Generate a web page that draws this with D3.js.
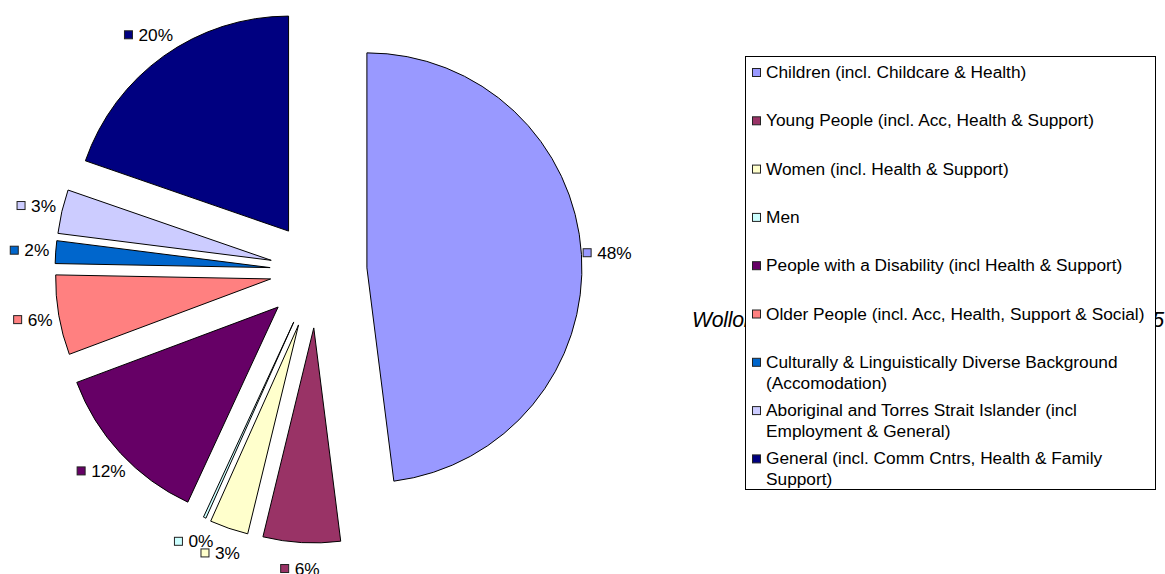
<!DOCTYPE html>
<html>
<head>
    <meta charset="utf-8">
    <title>Funding by target group - exploded pie</title>
    <style>
        body { margin: 0; background: #fff; }
        text { font-family: "Liberation Sans", Arial, sans-serif; fill: #000; }
        .slice { stroke: #000; stroke-width: 1px; }
        .key { stroke: #222; stroke-width: 1px; }
    </style>
    <script src="https://d3js.org/d3.v7.min.js"></script>
</head>
<body>
<script>
  // slice order is clockwise from 12 o'clock
  var categories = [
    "Children (incl. Childcare & Health)",
    "Young People (incl. Acc, Health & Support)",
    "Women (incl. Health & Support)",
    "Men",
    "People with a Disability (incl Health & Support)",
    "Older People (incl. Acc, Health, Support & Social)",
    "Culturally & Linguistically Diverse Background (Accomodation)",
    "Aboriginal and Torres Strait Islander (incl Employment & General)",
    "General (incl. Comm Cntrs, Health & Family Support)"
  ];
  var shares = [48.0, 5.8, 2.9, 0.2, 12.4, 6.0, 1.7, 3.3, 19.7];
  var colours = ["#9999ff", "#993366", "#ffffcc", "#ccffff", "#660066",
                 "#ff8080", "#0066cc", "#ccccff", "#000080"];
  // how far each slice is pulled out from the centre (px)
  var explode = [50, 57, 57, 56, 53, 47, 47, 47, 49];
  var chartTitle = "Wollongong Community Grants Funding 2004/2005";

  var width = 1165, height = 574;
  var cx = 317, cy = 271, radius = 215, labelRadius = 241;

  var svg = d3.select("body").append("svg")
              .attr("width", width)
              .attr("height", height);

  // title sits behind the legend box, as in the original
  svg.append("text")
     .attr("x", 692)
     .attr("y", 327)
     .attr("textLength", 472)
     .attr("lengthAdjust", "spacing")
     .style("font-size", "21.3px")
     .style("font-style", "italic")
     .text(chartTitle);

  var data = categories.map(function (c, i) {
    return {name: c, value: shares[i], colour: colours[i], explode: explode[i]};
  });

  var pie = d3.pie().sort(null).value(function (d) { return d.value; });
  var arc = d3.arc().innerRadius(0).outerRadius(radius);
  var arcs = pie(data);

  function offset(d, r) {
    var mid = (d.startAngle + d.endAngle) / 2;
    return [r * Math.sin(mid), -r * Math.cos(mid)];
  }

  var g = svg.append("g").attr("transform", "translate(" + cx + "," + cy + ")");

  g.selectAll(".slice")
   .data(arcs)
   .enter()
   .append("path")
   .attr("class", "slice")
   .attr("d", arc)
   .attr("fill", function (d) { return d.data.colour; })
   .attr("transform", function (d) {
     var o = offset(d, d.data.explode);
     return "translate(" + o[0] + "," + o[1] + ")";
   });

  // data labels: small colour key + rounded percent
  var fmt = d3.format(".0f");
  var labels = g.selectAll(".lbl")
                .data(arcs)
                .enter()
                .append("g")
                .attr("class", "lbl");

  labels.each(function (d) {
    var sel = d3.select(this);
    var o = offset(d, d.data.explode);
    var p = offset(d, labelRadius);
    var lx = o[0] + p[0], ly = o[1] + p[1];
    var t = sel.append("text")
               .attr("dy", "0.35em")
               .style("font-size", "17.3px")
               .text(fmt(d.data.value) + "%");
    var tw = t.node().getComputedTextLength();
    var w = 8 + 6 + tw;
    var x0 = lx - w / 2;
    sel.insert("rect", "text")
       .attr("class", "key")
       .attr("x", x0)
       .attr("y", ly - 4)
       .attr("width", 8)
       .attr("height", 8)
       .attr("fill", d.data.colour);
    t.attr("x", x0 + 14).attr("y", ly);
  });

  // legend
  var legX = 745, legY = 56, legW = 410, legH = 433;
  var rowStep = 48.3, lineH = 20.8, wrapWidth = 390;

  var legend = svg.append("g");
  legend.append("rect")
        .attr("x", legX + 0.5)
        .attr("y", legY + 0.5)
        .attr("width", legW)
        .attr("height", legH)
        .attr("fill", "#fff")
        .attr("stroke", "#000");

  data.forEach(function (d, i) {
    var y = legY + 16 + i * rowStep;
    legend.append("rect")
          .attr("class", "key")
          .attr("x", legX + 7.5)
          .attr("y", y - 3.5)
          .attr("width", 8)
          .attr("height", 8)
          .attr("fill", d.colour);
    var t = legend.append("text")
                  .attr("x", legX + 21)
                  .attr("y", y)
                  .attr("dy", "0.35em")
                  .style("font-size", "17.3px");
    // wrap long names onto a second line
    var words = d.name.split(" "), line = [];
    var tspan = t.append("tspan").attr("x", legX + 21);
    words.forEach(function (w) {
      line.push(w);
      tspan.text(line.join(" "));
      if (tspan.node().getComputedTextLength() > wrapWidth && line.length > 1) {
        line.pop();
        tspan.text(line.join(" "));
        line = [w];
        tspan = t.append("tspan")
                 .attr("x", legX + 21)
                 .attr("dy", lineH)
                 .text(w);
      }
    });
  });
</script>
</body>
</html>
